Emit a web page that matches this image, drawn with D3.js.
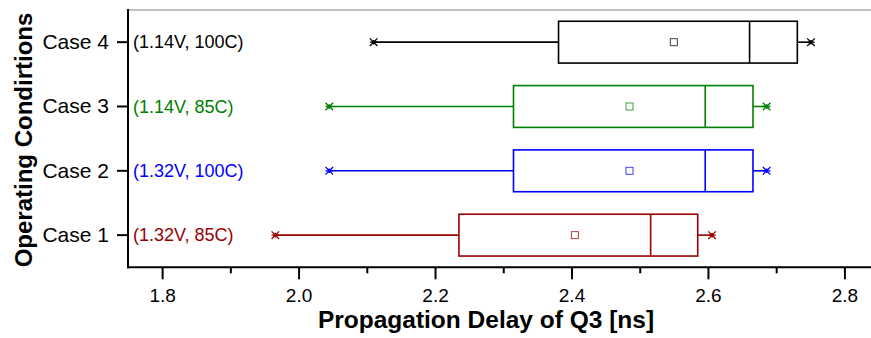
<!DOCTYPE html>
<html>
<head>
<meta charset="utf-8">
<script src="https://cdn.jsdelivr.net/npm/d3@7"></script>
<style>
  html, body { margin: 0; padding: 0; background: #fff; }
  svg { display: block; font-family: "Liberation Sans", Arial, sans-serif; }
</style>
</head>
<body>
<svg id="chart" width="871" height="338"></svg>
<script>
// Box-plot statistics of the Q3 propagation delay (ns) per operating condition
const cases      = ["Case 1", "Case 2", "Case 3", "Case 4"];
const conditions = ["(1.32V, 85C)", "(1.32V, 100C)", "(1.14V, 85C)", "(1.14V, 100C)"];
const colors     = ["#990000", "#0000ff", "#008000", "#000000"];
const minVals    = [1.966, 2.045, 2.045, 2.110];
const q1Vals     = [2.235, 2.315, 2.315, 2.381];
const medianVals = [2.516, 2.596, 2.596, 2.661];
const meanVals   = [2.405, 2.485, 2.485, 2.550];
const q3Vals     = [2.585, 2.666, 2.666, 2.731];
const maxVals    = [2.606, 2.686, 2.686, 2.751];
const majorTicks = [1.8, 2.0, 2.2, 2.4, 2.6, 2.8];
const minorTicks = [1.9, 2.1, 2.3, 2.5, 2.7];

const rows = cases.map((c, i) => ({
  name: c, cond: conditions[i], color: colors[i],
  min: minVals[i], q1: q1Vals[i], med: medianVals[i],
  mean: meanVals[i], q3: q3Vals[i], max: maxVals[i]
}));

const svg = d3.select("#chart");
const plotLeft = 128, plotRight = 871.7, plotTop = 10, plotBottom = 267.3;

const x = d3.scaleLinear().domain([1.75, 2.84]).range([plotLeft, plotRight]);
const y = d3.scaleBand().domain(cases).range([plotBottom, plotTop]).padding(0);
const yc = d => y(d) + y.bandwidth() / 2;
const boxH = y.bandwidth() * 0.65;

// top frame line
svg.append("line")
  .attr("x1", plotLeft).attr("x2", 871).attr("y1", plotTop).attr("y2", plotTop)
  .attr("stroke", "#aaaaaa").attr("stroke-width", 1.5);

// bottom axis: major ticks with labels
const xAxis = svg.append("g").attr("transform", `translate(0,${plotBottom})`)
  .call(d3.axisBottom(x).tickValues(majorTicks).tickSize(12).tickPadding(9)
        .tickFormat(d3.format(".1f")));
xAxis.select(".domain").remove();
xAxis.selectAll(".tick line").attr("stroke", "#000").attr("stroke-width", 2);
xAxis.selectAll(".tick text").attr("font-size", 19).attr("fill", "#000")
  .attr("font-family", "Liberation Sans, Arial, sans-serif");

// minor ticks
const xMinor = svg.append("g").attr("transform", `translate(0,${plotBottom})`)
  .call(d3.axisBottom(x).tickValues(minorTicks).tickSize(6).tickFormat(""));
xMinor.select(".domain").remove();
xMinor.selectAll(".tick line").attr("stroke", "#000").attr("stroke-width", 2);

svg.append("line")
  .attr("x1", plotLeft - 1).attr("x2", 871).attr("y1", plotBottom).attr("y2", plotBottom)
  .attr("stroke", "#000").attr("stroke-width", 2);

// left axis with case labels
const yAxis = svg.append("g").attr("transform", `translate(${plotLeft},0)`)
  .call(d3.axisLeft(y).tickSize(11).tickPadding(8));
yAxis.select(".domain").remove();
yAxis.selectAll(".tick line").attr("stroke", "#000").attr("stroke-width", 2);
yAxis.selectAll(".tick text").attr("font-size", 21).attr("fill", "#000")
  .attr("font-family", "Liberation Sans, Arial, sans-serif");

svg.append("line")
  .attr("x1", plotLeft).attr("x2", plotLeft).attr("y1", plotTop - 1).attr("y2", plotBottom + 1)
  .attr("stroke", "#000").attr("stroke-width", 2);

// condition annotations inside the plot
svg.selectAll("text.cond").data(rows).join("text")
  .attr("class", "cond")
  .attr("x", plotLeft + 5).attr("y", d => yc(d.name))
  .attr("dy", "0.35em")
  .attr("font-size", 18)
  .attr("fill", d => d.color)
  .text(d => d.cond);

// box plots
const g = svg.selectAll("g.box").data(rows).join("g").attr("class", "box");

g.append("line")
  .attr("x1", d => x(d.min)).attr("x2", d => x(d.q1))
  .attr("y1", d => yc(d.name)).attr("y2", d => yc(d.name))
  .attr("stroke", d => d.color).attr("stroke-width", 1.6);
g.append("line")
  .attr("x1", d => x(d.q3)).attr("x2", d => x(d.max))
  .attr("y1", d => yc(d.name)).attr("y2", d => yc(d.name))
  .attr("stroke", d => d.color).attr("stroke-width", 1.6);

g.append("rect")
  .attr("x", d => x(d.q1)).attr("width", d => x(d.q3) - x(d.q1))
  .attr("y", d => yc(d.name) - boxH / 2).attr("height", boxH)
  .attr("fill", "none").attr("stroke", d => d.color).attr("stroke-width", 1.6);

g.append("line")
  .attr("x1", d => x(d.med)).attr("x2", d => x(d.med))
  .attr("y1", d => yc(d.name) - boxH / 2).attr("y2", d => yc(d.name) + boxH / 2)
  .attr("stroke", d => d.color).attr("stroke-width", 1.6);

// mean marker: small open square
g.append("rect")
  .attr("x", d => x(d.mean) - 3.5).attr("y", d => yc(d.name) - 3.5)
  .attr("width", 7).attr("height", 7)
  .attr("fill", "none").attr("stroke", d => d.color)
  .attr("stroke-opacity", 0.75).attr("stroke-width", 1);

// asterisk markers at whisker extremes
const star = (cx, cy, r) =>
  `M${cx - r},${cy - r}L${cx + r},${cy + r}M${cx - r},${cy + r}L${cx + r},${cy - r}` +
  `M${cx - r},${cy}L${cx + r},${cy}M${cx},${cy - r * 0.6}L${cx},${cy + r * 0.6}`;
["min", "max"].forEach(k => {
  g.append("path")
    .attr("d", d => star(x(d[k]), yc(d.name), 3.8))
    .attr("stroke", d => d.color).attr("stroke-width", 1.3).attr("fill", "none");
});

// axis titles
svg.append("text")
  .attr("x", 486).attr("y", 328)
  .attr("text-anchor", "middle")
  .attr("font-size", 24.5).attr("font-weight", "bold")
  .text("Propagation Delay of Q3 [ns]");

svg.append("text")
  .attr("transform", "translate(32,140) rotate(-90)")
  .attr("text-anchor", "middle")
  .attr("font-size", 24).attr("font-weight", "bold")
  .text("Operating Condirtions");
</script>
</body>
</html>
